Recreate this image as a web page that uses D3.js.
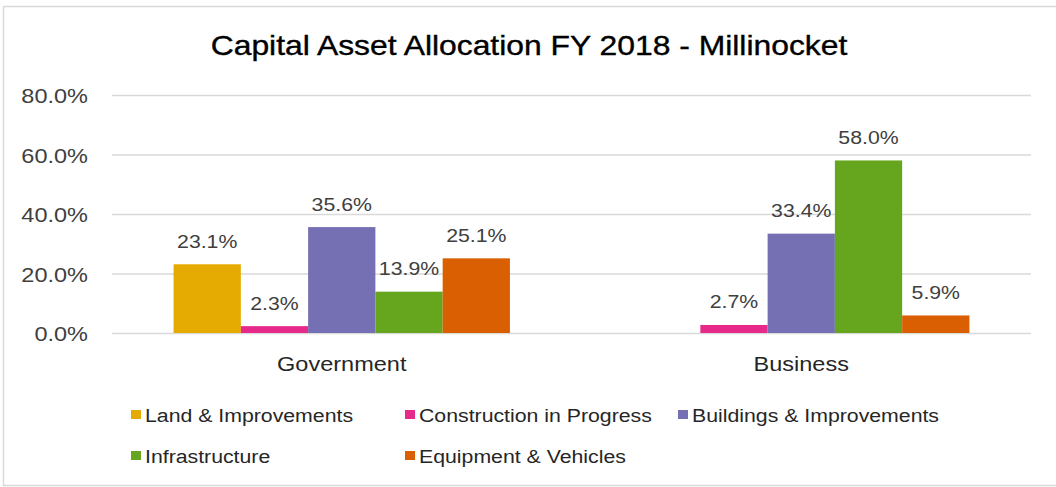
<!DOCTYPE html>
<html>
<head>
<meta charset="utf-8">
<script src="https://cdn.jsdelivr.net/npm/d3@7"></script>
<style>
  html, body { margin: 0; padding: 0; background: #ffffff; }
  svg { display: block; font-family: "Liberation Sans", Arial, Helvetica, sans-serif; }
</style>
</head>
<body>
<svg id="chart" width="1056" height="487"></svg>
<script>
// Capital asset allocation shares (percent of total) by fund type
const categories = ["Government", "Business"];
const seriesNames = [
  "Land & Improvements",
  "Construction in Progress",
  "Buildings & Improvements",
  "Infrastructure",
  "Equipment & Vehicles"
];
const landImprovements = [23.1, 0];
const constructionInProgress = [2.3, 2.7];
const buildingsImprovements = [35.6, 33.4];
const infrastructure = [13.9, 58.0];
const equipmentVehicles = [25.1, 5.9];
const yTicks = [0, 20, 40, 60, 80];

const seriesValues = [landImprovements, constructionInProgress, buildingsImprovements, infrastructure, equipmentVehicles];
const colors = ["#e6ab02", "#e7298a", "#7570b3", "#66a61e", "#d95f02"];

const svg = d3.select("#chart");
const W = 1056, H = 487;
const stretch = 1.12;   // slightly wide lettering

// outer frame
svg.append("rect")
  .attr("x", 3.5).attr("y", 6.5)
  .attr("width", W + 10).attr("height", 479)
  .attr("fill", "#ffffff")
  .attr("stroke", "#d9d9d9").attr("stroke-width", 1.5);

const plot = { left: 112, right: 1031, top: 95, bottom: 333 };

const x0 = d3.scaleBand()
  .domain(categories)
  .range([plot.left, plot.right])
  .paddingInner(0.268)
  .paddingOuter(0.134);

const x1 = d3.scaleBand()
  .domain(seriesNames)
  .range([0, x0.bandwidth()]);

const y = d3.scaleLinear()
  .domain([0, 80])
  .range([plot.bottom, plot.top]);

// helper for horizontally widened text
function label(g, x, yPos, str, opts) {
  return g.append("text")
    .attr("transform", `translate(${x},${yPos}) scale(${opts.sx || stretch},1)`)
    .attr("text-anchor", opts.anchor || "middle")
    .attr("font-size", opts.size)
    .attr("fill", opts.color || "#404040")
    .text(str);
}

// title
label(svg, 529, 55, "Capital Asset Allocation FY 2018 - Millinocket", { size: 27, sx: 1.18, color: "#000000" })
  .attr("stroke", "#000000").attr("stroke-width", 0.35);

// gridlines
const grid = svg.append("g")
  .attr("transform", `translate(${plot.left},0)`)
  .call(d3.axisLeft(y).tickValues(yTicks).tickSize(-(plot.right - plot.left)).tickFormat(""));
grid.select(".domain").remove();
grid.selectAll(".tick line").attr("stroke", "#d9d9d9").attr("stroke-width", 1.5);

// y axis labels
const yAxis = svg.append("g")
  .attr("transform", `translate(${plot.left},0)`)
  .call(d3.axisLeft(y).tickValues(yTicks).tickSize(0).tickPadding(0).tickFormat(d => d.toFixed(1) + "%"));
yAxis.select(".domain").remove();
yAxis.selectAll(".tick text")
  .attr("x", 0).attr("dy", null)
  .attr("transform", `translate(-24,7.5) scale(${stretch},1)`)
  .attr("font-size", 21)
  .attr("font-family", "Liberation Sans, Arial, sans-serif")
  .attr("fill", "#404040");

// bars
const groups = svg.append("g").selectAll("g")
  .data(categories)
  .join("g")
  .attr("transform", d => `translate(${x0(d)},0)`);

groups.each(function (cat, ci) {
  const g = d3.select(this);
  seriesNames.forEach((s, si) => {
    const v = seriesValues[si][ci];
    if (v <= 0) return;
    g.append("rect")
      .attr("x", x1(s))
      .attr("y", y(v))
      .attr("width", x1.bandwidth())
      .attr("height", y(0) - y(v))
      .attr("fill", colors[si]);
    label(g, x1(s) + x1.bandwidth() / 2, y(v) - 16.5, v.toFixed(1) + "%", { size: 19 });
  });
});

// category labels
categories.forEach(c => {
  label(svg, x0(c) + x0.bandwidth() / 2, 371, c, { size: 21, color: "#262626" });
});

// legend
const legendItems = [
  { i: 0, x: 131, y: 422 },
  { i: 1, x: 405, y: 422 },
  { i: 2, x: 678, y: 422 },
  { i: 3, x: 131, y: 463 },
  { i: 4, x: 405, y: 463 }
];
const legend = svg.append("g");
legendItems.forEach(it => {
  legend.append("rect")
    .attr("x", it.x).attr("y", it.y - 12)
    .attr("width", 10).attr("height", 9)
    .attr("fill", colors[it.i]);
  label(legend, it.x + 14, it.y, seriesNames[it.i], { size: 19, anchor: "start", color: "#262626" });
});
</script>
</body>
</html>
